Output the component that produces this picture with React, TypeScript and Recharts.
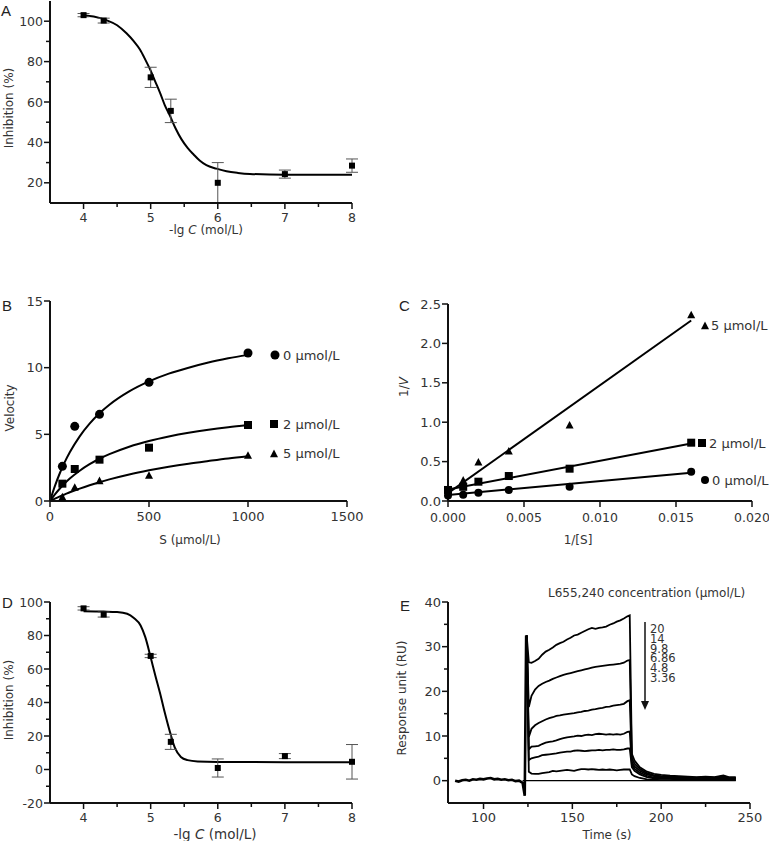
import React from 'react'
import { ComposedChart, Scatter, Line, XAxis, YAxis, ErrorBar } from 'recharts'

// A - inhibition curve
const aDose = [4, 4.3, 5, 5.3, 6, 7, 8]
const aInhib = [103, 100.3, 72.2, 55.6, 20, 24.3, 28.5]
const aErr = [0.8, 1.2, 5, 5.8, 10, 2, 3.3]
const aFitX = [4, 4.15, 4.34, 4.5, 4.64, 4.75, 4.84, 4.92, 5.0, 5.07, 5.14, 5.21, 5.29, 5.37, 5.46, 5.55, 5.64, 5.73, 5.83, 5.98, 6.13, 6.3, 6.48, 7, 8]
const aFitY = [103, 102.3, 100.5, 98, 94, 90, 86, 81, 75.5, 70, 64.5, 58.5, 53, 47, 41.5, 37.3, 34, 31, 28.7, 27, 25.7, 24.9, 24.4, 24, 24]

// B - Michaelis-Menten
const substrate = [62.5, 125, 250, 500, 1000]
const vel0 = [2.6, 5.6, 6.5, 8.9, 11.1]
const vel2 = [1.3, 2.4, 3.1, 4.0, 5.7]
const vel5 = [0.28, 1.0, 1.5, 1.9, 3.4]
const bFitS = [0, 25, 50, 75, 100, 150, 200, 250, 300, 400, 500, 600, 700, 800, 900, 1000]
const fit0 = [0, 1.13, 2.1, 2.93, 3.65, 4.85, 5.8, 6.58, 7.22, 8.22, 8.97, 9.55, 10.0, 10.39, 10.7, 10.96]
const fit2 = [0, 0.5, 0.94, 1.33, 1.68, 2.27, 2.76, 3.17, 3.51, 4.07, 4.5, 4.84, 5.12, 5.35, 5.54, 5.7]
const fit5 = [0, 0.18, 0.35, 0.5, 0.66, 0.93, 1.18, 1.41, 1.62, 1.99, 2.3, 2.57, 2.8, 3.0, 3.19, 3.35]

// C - Lineweaver-Burk
const invSq = [0, 0.001, 0.002, 0.004, 0.008, 0.016]
const inv0 = [0.07, 0.08, 0.105, 0.14, 0.18, 0.37]
const inv2 = [0.14, 0.18, 0.245, 0.317, 0.41, 0.74]
const invSTri = [0.001, 0.002, 0.004, 0.008, 0.016]
const inv5 = [0.26, 0.49, 0.63, 0.96, 2.36]
const cLineX = [0, 0.016]
const line0 = [0.075, 0.36]
const line2 = [0.145, 0.73]
const line5 = [0.1, 2.29]

// D - inhibition curve
const dDose = [4, 4.3, 5, 5.3, 6, 7, 8]
const dInhib = [96.2, 92.5, 67.8, 16.5, 0.9, 8, 4.6]
const dErr = [1, 1.5, 1, 4.5, 5.4, 1.5, 10.3]
const dFitX = [4, 4.3, 4.5, 4.65, 4.75, 4.85, 4.92, 5.0, 5.07, 5.14, 5.21, 5.29, 5.36, 5.45, 5.55, 5.7, 6.0, 7, 8]
const dFitY = [94.5, 94.3, 94, 93, 90.5, 86, 79, 67, 56, 45.5, 34, 22, 13, 7.5, 5.6, 4.8, 4.5, 4.4, 4.4]

// E - SPR sensorgram
const baseT = [84, 86, 88, 90, 92, 94, 96, 98, 100, 102, 104, 106, 108, 110, 112, 114, 116, 118, 120, 122, 123.2, 124]
const baseV = [0.0, -0.2, 0.1, 0.2, 0.0, 0.3, 0.2, 0.4, 0.3, 0.5, 0.6, 0.3, 0.4, 0.2, 0.3, 0.1, 0.2, -0.1, 0.0, -0.5, -3.4, 32.5]
const growT = [124.3, 125.5, 127, 129, 131, 133, 135, 137, 139, 141, 143, 145, 147, 149, 151, 153, 155, 157, 159, 161, 163, 165, 167, 169, 171, 173, 175, 177, 179, 181]
const tailT = [182.3, 183.5, 185, 188, 192, 196, 200, 205, 210, 215, 220, 225, 230, 235, 238, 242]
const conc = ['20', '14', '9.8', '6.86', '4.8', '3.36']
const grow = [
  [32.5, 26.5, 26.4, 26.8, 27.3, 28.2, 28.9, 29.3, 29.8, 30.4, 30.8, 31.1, 31.6, 32.0, 32.5, 32.7, 33.1, 33.5, 33.9, 34.2, 34.0, 34.2, 34.3, 34.5, 34.9, 35.2, 35.6, 35.9, 36.3, 36.8],
  [32.5, 16.5, 19.0, 20.4, 21.2, 21.7, 22.1, 22.4, 22.8, 23.1, 23.4, 23.7, 23.9, 24.1, 24.3, 24.5, 24.7, 24.9, 25.1, 25.3, 25.5, 25.6, 25.7, 25.8, 25.9, 26.0, 26.1, 26.2, 26.4, 26.9],
  [32.5, 9.8, 11.6, 12.4, 12.9, 13.3, 13.7, 14.0, 14.2, 14.5, 14.6, 14.8, 14.9, 15.0, 15.1, 15.3, 15.4, 15.6, 15.7, 15.9, 16.0, 16.2, 16.3, 16.5, 16.6, 16.8, 16.9, 17.0, 17.2, 17.8],
  [32.5, 7.0, 7.6, 7.7, 7.8, 8.2, 8.5, 8.7, 8.8, 9.0, 9.3, 9.5, 9.7, 9.8, 9.9, 10.1, 10.0, 10.2, 10.3, 10.2, 10.4, 10.5, 10.4, 10.3, 10.4, 10.3, 10.4, 10.3, 10.5, 10.9],
  [32.5, 4.6, 5.0, 5.2, 5.4, 5.7, 5.8, 5.9, 6.0, 6.1, 6.3, 6.4, 6.5, 6.5, 6.7, 6.8, 6.7, 6.6, 6.7, 6.8, 6.8, 6.9, 6.8, 6.9, 6.9, 7.0, 6.9, 6.9, 7.0, 7.2],
  [32.5, 2.0, 1.6, 1.5, 1.5, 1.7, 1.8, 1.9, 2.2, 2.1, 2.2, 2.3, 2.4, 2.3, 2.2, 2.4, 2.6, 2.6, 2.5, 2.6, 2.5, 2.4, 2.5, 2.4, 2.5, 2.4, 2.3, 2.4, 2.5, 2.5],
]
const tail = [
  [37, 6, 4.5, 3, 2, 1.5, 1.3, 1.1, 1.0, 0.9, 0.8, 0.9, 0.8, 1.2, 0.8, 0.8],
  [27, 5, 3.8, 2.6, 1.7, 1.2, 1.0, 0.9, 0.8, 0.7, 0.7, 0.8, 0.7, 1.0, 0.7, 0.6],
  [18, 4.2, 3.2, 2.2, 1.4, 1.0, 0.8, 0.7, 0.6, 0.6, 0.6, 0.7, 0.6, 0.8, 0.6, 0.5],
  [11, 3.6, 2.7, 1.8, 1.1, 0.7, 0.6, 0.5, 0.5, 0.4, 0.5, 0.5, 0.4, 0.6, 0.5, 0.4],
  [7.2, 3, 2.2, 1.4, 0.8, 0.5, 0.4, 0.4, 0.3, 0.3, 0.3, 0.4, 0.3, 0.4, 0.3, 0.3],
  [2.5, 1.4, 1.0, 0.6, 0.3, 0.2, 0.1, 0.1, 0.2, 0.1, 0.1, 0.2, 0.1, 0.2, 0.1, 0.1],
]
const blankT = [122, 242]
const blankV = [0, 0]

const pts = (xs: number[], ys: number[], errs?: number[]) =>
  xs.map((x, i) => (errs ? { x, y: ys[i], err: errs[i] } : { x, y: ys[i] }))

const FONT = 'DejaVu Sans'
const TXT = '#333'
const axisLine = { stroke: '#111', strokeWidth: 2 }

const Tick = (props: any) => {
  const { x, y, payload, axis, majors, fmt, fs = 13, dy = 20 } = props
  const v = payload.value
  const major = majors.some((m: number) => Math.abs(m - v) < 1e-9)
  const len = major ? 6 : 4
  const label = fmt ? fmt(v) : String(v)
  if (axis === 'x') {
    return (
      <g>
        <line x1={x} y1={y} x2={x} y2={y + len} stroke="#111" strokeWidth={1.5} />
        {major && (
          <text x={x} y={y + dy} textAnchor="middle" fontSize={fs} fontFamily={FONT} fill={TXT}>
            {label}
          </text>
        )}
      </g>
    )
  }
  return (
    <g>
      <line x1={x} y1={y} x2={x - len} y2={y} stroke="#111" strokeWidth={1.5} />
      {major && (
        <text x={x - 7} y={y + 4.5} textAnchor="end" fontSize={fs} fontFamily={FONT} fill={TXT}>
          {label}
        </text>
      )}
    </g>
  )
}

const Marker = ({ cx, cy, kind, size }: any) => {
  if (cx == null || cy == null) return null
  if (kind === 'circle') return <circle cx={cx} cy={cy} r={size / 2} fill="#000" />
  if (kind === 'square')
    return <rect x={cx - size / 2} y={cy - size / 2} width={size} height={size} fill="#000" />
  return (
    <polygon
      points={`${cx},${cy - size * 0.55} ${cx - size / 2},${cy + size * 0.4} ${cx + size / 2},${cy + size * 0.4}`}
      fill="#000"
    />
  )
}

const xAx = (domain: number[], ticks: number[], majors: number[], extra: any = {}) => (
  <XAxis
    type="number"
    dataKey="x"
    domain={domain}
    ticks={ticks}
    interval={0}
    height={30}
    axisLine={axisLine}
    tickLine={false}
    tickSize={0}
    tickMargin={0}
    tick={(p: any) => <Tick {...p} axis="x" majors={majors} {...extra} />}
  />
)

const yAx = (domain: number[], ticks: number[], majors: number[], width: number, extra: any = {}) => (
  <YAxis
    type="number"
    dataKey="y"
    domain={domain}
    ticks={ticks}
    interval={0}
    width={width}
    axisLine={axisLine}
    tickLine={false}
    tickSize={0}
    tickMargin={0}
    tick={(p: any) => <Tick {...p} axis="y" majors={majors} {...extra} />}
  />
)

const DoseChart = ({ top, pointsData, fitData, yDomain, yTicks, yMajors, marginTop, height }: any) => (
  <div style={{ position: 'absolute', left: 0, top }}>
    <ComposedChart width={380} height={height} margin={{ top: marginTop, right: 28, bottom: 0, left: 0 }}>
      {xAx([3.5, 8], [4, 4.5, 5, 5.5, 6, 6.5, 7, 7.5, 8], [4, 5, 6, 7, 8], { fs: 12.5, dy: 19 })}
      {yAx(yDomain, yTicks, yMajors, 50, { fs: 12.5 })}
      <Line data={fitData} dataKey="y" type="monotone" stroke="#000" strokeWidth={2} dot={false} isAnimationActive={false} />
      <Scatter
        data={pointsData}
        isAnimationActive={false}
        shape={(p: any) => <Marker {...p} kind="square" size={6} />}
      >
        <ErrorBar dataKey="err" direction="y" width={6} stroke="#555" strokeWidth={1} />
      </Scatter>
    </ComposedChart>
  </div>
)

const Overlay = () => {
  const t = (x: number, y: number, s: string, fs = 12, anchor = 'middle') => (
    <text x={x} y={y} fontSize={fs} fontFamily={FONT} fill={TXT} textAnchor={anchor}>
      {s}
    </text>
  )
  const vt = (x: number, y: number, content: any, fs = 12) => (
    <text transform={`translate(${x},${y}) rotate(-90)`} fontSize={fs} fontFamily={FONT} fill={TXT} textAnchor="middle">
      {content}
    </text>
  )
  const letter = (x: number, y: number, s: string) => (
    <text x={x} y={y} fontSize={15} fontFamily="Liberation Sans" fill="#222">
      {s}
    </text>
  )
  const lgC = (x: number, y: number, fs: number) => (
    <text x={x} y={y} fontSize={fs} fontFamily={FONT} fill={TXT} textAnchor="middle">
      -lg <tspan fontStyle="italic">C</tspan> (mol/L)
    </text>
  )
  return (
    <svg width={769} height={841} style={{ position: 'absolute', left: 0, top: 0, pointerEvents: 'none' }}>
      {letter(1, 16, 'A')}
      {letter(2, 311, 'B')}
      {letter(399, 311, 'C')}
      {letter(2, 608, 'D')}
      {letter(400, 611, 'E')}

      {vt(13, 108, 'Inhibition (%)')}
      {lgC(206, 234, 12)}

      {vt(14, 408, 'Velocity')}
      {t(190, 544, 'S (μmol/L)')}

      {vt(408, 387, <>1/<tspan fontStyle="italic">V</tspan></>)}
      {t(578, 544, '1/[S]')}

      {vt(13, 700, 'Inhibition (%)')}
      {lgC(215, 839, 13.5)}

      {vt(406, 698, 'Response unit (RU)')}
      {t(607, 839, 'Time (s)')}

      <Marker cx={275} cy={355} kind="circle" size={9} />
      {t(283, 360, '0 μmol/L', 13, 'start')}
      <Marker cx={274} cy={424} kind="square" size={8} />
      {t(283, 429, '2 μmol/L', 13, 'start')}
      <Marker cx={274} cy={454} kind="triangle" size={8} />
      {t(283, 458, '5 μmol/L', 13, 'start')}

      <Marker cx={705} cy={326} kind="triangle" size={8} />
      {t(711, 330, '5 μmol/L', 13, 'start')}
      <Marker cx={702} cy={443} kind="square" size={8} />
      {t(709, 448, '2 μmol/L', 13, 'start')}
      <Marker cx={705} cy={480} kind="circle" size={8} />
      {t(712, 485, '0 μmol/L', 13, 'start')}

      {t(548, 597, 'L655,240 concentration (μmol/L)', 12, 'start')}
      <line x1={645} y1={622} x2={645} y2={703} stroke="#111" strokeWidth={1.5} />
      <polygon points="641,701 649,701 645,710" fill="#111" />
      {conc.map((c, i) => (
        <React.Fragment key={c}>{t(650, 633 + i * 9.8, c, 11.5, 'start')}</React.Fragment>
      ))}
    </svg>
  )
}

export default function App() {
  const aPts = pts(aDose, aInhib, aErr)
  const aFit = pts(aFitX, aFitY)
  const dPts = pts(dDose, dInhib, dErr)
  const dFit = pts(dFitX, dFitY)
  const bSets = [
    { p: pts(substrate, vel0), f: pts(bFitS, fit0), kind: 'circle', size: 9 },
    { p: pts(substrate, vel2), f: pts(bFitS, fit2), kind: 'square', size: 8 },
    { p: pts(substrate, vel5), f: pts(bFitS, fit5), kind: 'triangle', size: 8 },
  ]
  const cSets = [
    { p: pts(invSq, inv0), f: pts(cLineX, line0), kind: 'circle', size: 8 },
    { p: pts(invSq, inv2), f: pts(cLineX, line2), kind: 'square', size: 8 },
    { p: pts(invSTri, inv5), f: pts(cLineX, line5), kind: 'triangle', size: 8 },
  ]
  const eCurves = grow.map((g, i) => pts([...growT, ...tailT], [...g, ...tail[i]]))

  return (
    <div style={{ position: 'absolute', left: 0, top: 0, width: 769, height: 841, background: '#fff', fontFamily: FONT, overflow: 'hidden' }}>
      <DoseChart top={0} marginTop={1} height={233} pointsData={aPts} fitData={aFit}
        yDomain={[10, 110]} yTicks={[20, 30, 40, 50, 60, 70, 80, 90, 100]} yMajors={[20, 40, 60, 80, 100]} />

      <div style={{ position: 'absolute', left: 0, top: 290 }}>
        <ComposedChart width={377} height={241} margin={{ top: 11, right: 30, bottom: 0, left: 0 }}>
          {xAx([0, 1500], [0, 500, 1000, 1500], [0, 500, 1000, 1500], { fs: 13, dy: 20 })}
          {yAx([0, 15], [0, 5, 10, 15], [0, 5, 10, 15], 50, { fs: 13 })}
          {bSets.map((s, i) => (
            <Line key={'bl' + i} data={s.f} dataKey="y" type="monotone" stroke="#000" strokeWidth={2} dot={false} isAnimationActive={false} />
          ))}
          {bSets.map((s, i) => (
            <Scatter key={'bs' + i} data={s.p} isAnimationActive={false}
              shape={(p: any) => <Marker {...p} kind={s.kind} size={s.size} />} />
          ))}
        </ComposedChart>
      </div>

      <div style={{ position: 'absolute', left: 380, top: 290 }}>
        <ComposedChart width={389} height={241} margin={{ top: 14, right: 17, bottom: 0, left: 0 }}>
          {xAx([0, 0.02], [0, 0.005, 0.01, 0.015, 0.02], [0, 0.005, 0.01, 0.015, 0.02], { fs: 12.5, dy: 21, fmt: (v: number) => v.toFixed(3) })}
          {yAx([0, 2.5], [0, 0.5, 1, 1.5, 2, 2.5], [0, 0.5, 1, 1.5, 2, 2.5], 68, { fs: 13, fmt: (v: number) => v.toFixed(1) })}
          {cSets.map((s, i) => (
            <Line key={'cl' + i} data={s.f} dataKey="y" type="linear" stroke="#000" strokeWidth={2} dot={false} isAnimationActive={false} />
          ))}
          {cSets.map((s, i) => (
            <Scatter key={'cs' + i} data={s.p} isAnimationActive={false}
              shape={(p: any) => <Marker {...p} kind={s.kind} size={s.size} />} />
          ))}
        </ComposedChart>
      </div>

      <DoseChart top={590} marginTop={12} height={243} pointsData={dPts} fitData={dFit}
        yDomain={[-20, 100]} yTicks={[-20, -10, 0, 10, 20, 30, 40, 50, 60, 70, 80, 90, 100]} yMajors={[-20, 0, 20, 40, 60, 80, 100]} />

      <div style={{ position: 'absolute', left: 380, top: 590 }}>
        <ComposedChart width={389} height={243} margin={{ top: 12, right: 19, bottom: 0, left: 0 }}>
          {xAx([80, 250], [100, 125, 150, 175, 200, 225, 250], [100, 150, 200, 250], { fs: 13, dy: 19 })}
          {yAx([-5, 40], [0, 5, 10, 15, 20, 25, 30, 35, 40], [0, 10, 20, 30, 40], 68, { fs: 13 })}
          <Line data={pts(blankT, blankV)} dataKey="y" type="linear" stroke="#000" strokeWidth={1.4} dot={false} isAnimationActive={false} />
          <Line data={pts(baseT, baseV)} dataKey="y" type="linear" stroke="#000" strokeWidth={2.6} dot={false} isAnimationActive={false} />
          {eCurves.map((c, i) => (
            <Line key={'e' + i} data={c} dataKey="y" type="linear" stroke="#000" strokeWidth={1.8} dot={false} isAnimationActive={false} />
          ))}
        </ComposedChart>
      </div>

      <Overlay />
    </div>
  )
}
